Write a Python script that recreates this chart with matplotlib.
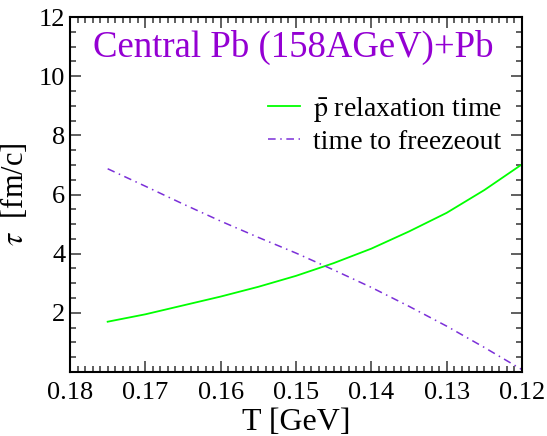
import matplotlib.pyplot as plt
import numpy as np
from matplotlib.ticker import MultipleLocator

plt.rcParams['font.family'] = ['Liberation Serif', 'DejaVu Serif']
plt.rcParams['mathtext.fontset'] = 'stix'

T = [0.175, 0.17, 0.165, 0.16, 0.155, 0.15, 0.145, 0.14, 0.135, 0.13, 0.125, 0.12]
tau_relax = [1.70, 1.95, 2.25, 2.55, 2.88, 3.25, 3.68, 4.17, 4.75, 5.38, 6.15, 7.02]
tau_freeze = [6.87, 6.28, 5.68, 5.10, 4.55, 4.02, 3.45, 2.86, 2.22, 1.55, 0.83, 0.08]

fig = plt.figure(figsize=(5.47, 4.36), dpi=100)
ax = fig.add_axes([70/547, 1-372/436, 452/547, 355/436])

ax.plot(T, tau_relax, color='#00ff00', lw=1.3, label=r'$\bar{\rm p}$ relaxation time')
ax.plot(T, tau_freeze, color='#7b2fd8', lw=1.1, dashes=(5, 3, 1, 3), label='time to freezeout')

ax.set_xlim(0.18, 0.12)
ax.set_ylim(0, 12)
ax.xaxis.set_minor_locator(MultipleLocator(0.001))
ax.yaxis.set_minor_locator(MultipleLocator(0.5))
ax.set_xticks([0.18, 0.17, 0.16, 0.15, 0.14, 0.13, 0.12])
ax.set_xticklabels(['0.18', '0.17', '0.16', '0.15', '0.14', '0.13', '0.12'])
ax.set_yticks([2, 4, 6, 8, 10, 12])
ax.tick_params(which='both', direction='in', top=True, right=True, labelsize=19, width=1.2, color='#444444')
ax.tick_params(which='major', length=8)
ax.tick_params(which='minor', length=4)
ax.tick_params(axis='x', which='major', pad=7)
for s in ax.spines.values():
    s.set_linewidth(1.5)

ax.set_xlabel('T [GeV]', fontsize=23, labelpad=3)
ax.set_ylabel(r'$\tau$  [fm/c]', fontsize=22, labelpad=6)

ax.text(0.05, 0.913, 'Central Pb (158AGeV)+Pb', transform=ax.transAxes,
        fontsize=26.5, color='#9400d3', va='center', ha='left')

ax.legend(loc='upper right', bbox_to_anchor=(1.0, 0.835), frameon=False, fontsize=20,
          handlelength=1.15, handletextpad=0.5, labelspacing=0.2, borderaxespad=0.3)

fig.savefig('out.png', dpi=100)
